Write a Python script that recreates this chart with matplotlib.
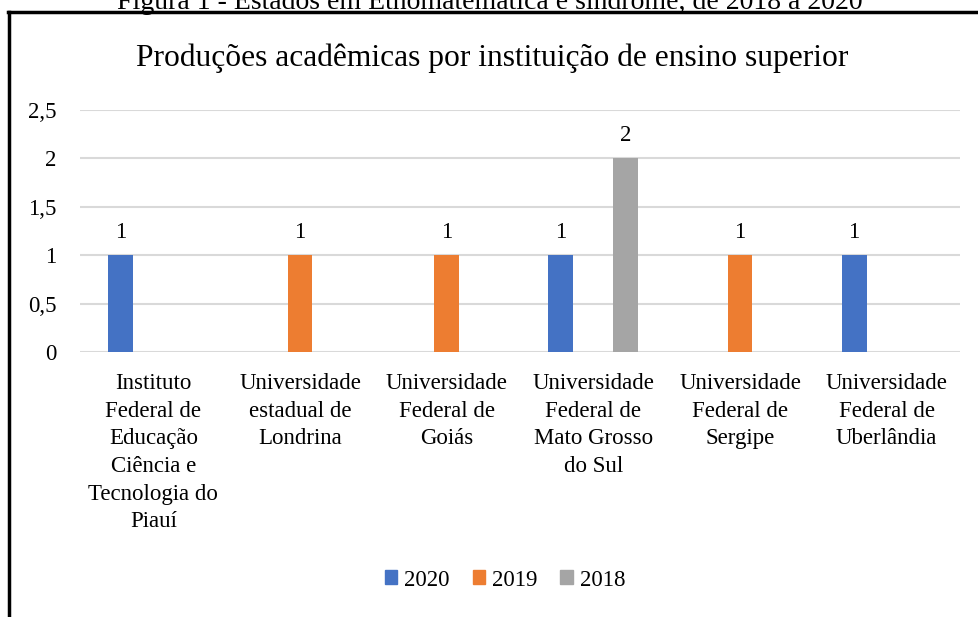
import matplotlib
matplotlib.use("Agg")
import matplotlib.pyplot as plt
import numpy as np
from matplotlib.lines import Line2D
from matplotlib.patches import Patch

plt.rcParams['font.family'] = ['Liberation Serif', 'DejaVu Serif']

categories = [
    "Instituto\nFederal de\nEducação\nCiência e\nTecnologia do\nPiauí",
    "Universidade\nestadual de\nLondrina",
    "Universidade\nFederal de\nGoiás",
    "Universidade\nFederal de\nMato Grosso\ndo Sul",
    "Universidade\nFederal de\nSergipe",
    "Universidade\nFederal de\nUberlândia",
]
series_names = ["2020", "2019", "2018"]
values_2020 = [1, 0, 0, 1, 0, 1]
values_2019 = [0, 1, 1, 0, 1, 0]
values_2018 = [0, 0, 0, 2, 0, 0]
y_ticks = [0, 0.5, 1, 1.5, 2, 2.5]
y_tick_labels = ["0", "0,5", "1", "1,5", "2", "2,5"]
title = "Produções acadêmicas por instituição de ensino superior"
caption = "Figura 1 - Estados em Etnomatemática e síndrome, de 2018 a 2020"

colors = ["#4472C4", "#ED7D31", "#A5A5A5"]
FS = 16.5

W, H = 979, 617
fig = plt.figure(figsize=(W / 100, H / 100), dpi=100)
ax = fig.add_axes([80 / W, 1 - 352 / H, 880 / W, 242 / H])

x = np.arange(len(categories))
offsets = [-0.222, 0.0, 0.222]
bw = 0.17
for vals, off, col, name in zip([values_2020, values_2019, values_2018], offsets, colors, series_names):
    ax.bar(x + off, vals, width=bw, color=col, label=name, zorder=3)
    for xi, v in zip(x + off, vals):
        if v:
            ax.annotate(str(v), (xi, v), xytext=(0, 9), textcoords="offset points",
                        ha="center", va="bottom", fontsize=FS)

ax.set_xlim(-0.5, len(categories) - 0.5)
ax.set_ylim(0, 2.5)
ax.set_yticks(y_ticks)
ax.set_yticklabels(y_tick_labels, fontsize=FS)
ax.set_xticks(x)
ax.set_xticklabels(categories, fontsize=FS, linespacing=1.42, va="top")
ax.tick_params(axis="both", length=0)
ax.tick_params(axis="x", pad=15)
ax.tick_params(axis="y", pad=17)
ax.grid(axis="y", color="#D9D9D9", linewidth=1.5, zorder=0)
for s in ax.spines.values():
    s.set_visible(False)

# chart title
fig.text(492 / W, 1 - 58 / H, title, ha="center", va="center", fontsize=22.7)

# caption (partially cut at top)
fig.text(490 / W, 1 - 9 / H, caption, ha="center", va="baseline", fontsize=20)

# legend
handles = [Patch(color=c) for c in colors]
fig.legend(handles, series_names, loc="center", bbox_to_anchor=(505 / W, 1 - 580 / H),
           ncol=3, frameon=False, fontsize=FS, handlelength=0.55, handleheight=0.55,
           handletextpad=0.3, columnspacing=1.0)

# frame lines
fig.add_artist(Line2D([8 / W, 1], [1 - 12 / H, 1 - 12 / H], color="black", linewidth=2.5))
fig.add_artist(Line2D([9 / W, 9 / W], [0, 1 - 12 / H], color="black", linewidth=2.5))

fig.savefig("out.png", dpi=100, facecolor="white")
